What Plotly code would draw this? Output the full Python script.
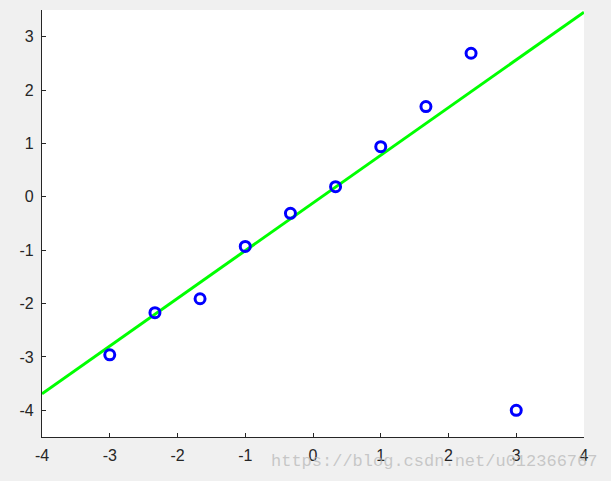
import plotly.graph_objects as go

# sample points
x_pts = [-3, -2.333, -1.667, -1, -0.333, 0.333, 1, 1.667, 2.333, 3]
y_pts = [-2.96, -2.17, -1.91, -0.93, -0.31, 0.19, 0.94, 1.69, 2.69, -4.0]

# fitted line end points
fit_x = [-4, 4]
fit_y = [-3.69, 3.46]

x_ticks = [-4, -3, -2, -1, 0, 1, 2, 3, 4]
x_labels = ["-4", "-3", "-2", "-1", "0", "1", "2", "3", "4"]
y_ticks = [-4, -3, -2, -1, 0, 1, 2, 3]
y_labels = ["-4", "-3", "-2", "-1", "0", "1", "2", "3"]

axis_col = "#262626"

fig = go.Figure()
fig.add_trace(go.Scatter(x=fit_x, y=fit_y, mode="lines",
                         line=dict(color="#00ff00", width=3),
                         showlegend=False, hoverinfo="skip"))
fig.add_trace(go.Scatter(x=x_pts, y=y_pts, mode="markers",
                         marker=dict(symbol="circle-open", size=10,
                                     color="#0000ff", line=dict(width=3)),
                         showlegend=False))

axis_common = dict(showgrid=False, zeroline=False, showline=True,
                   linecolor=axis_col, linewidth=1.3, ticks="inside",
                   ticklen=4, tickcolor=axis_col, tickwidth=1,
                   tickfont=dict(family="Liberation Sans, Arial", size=16,
                                 color=axis_col))

fig.update_layout(
    width=611, height=481,
    margin=dict(l=42, r=27, t=10, b=44, autoexpand=False),
    paper_bgcolor="#f0f0f0", plot_bgcolor="white",
    xaxis=dict(range=[-4, 4], tickvals=x_ticks, ticktext=x_labels,
               ticklabelstandoff=4, **axis_common),
    yaxis=dict(range=[-4.5, 3.5], tickvals=y_ticks, ticktext=y_labels,
               ticklabelstandoff=4, **axis_common),
    annotations=[dict(text="https://blog.csdn.net/u012366767",
                      xref="paper", yref="paper", x=1.027, y=-0.058,
                      xanchor="right", yanchor="middle", showarrow=False,
                      font=dict(family="Liberation Mono, DejaVu Sans Mono",
                                size=17, color="rgba(185,185,185,0.75)"))],
)

fig.write_html("out.html", config={"displayModeBar": False},
               post_script="document.body.style.margin='0';")
